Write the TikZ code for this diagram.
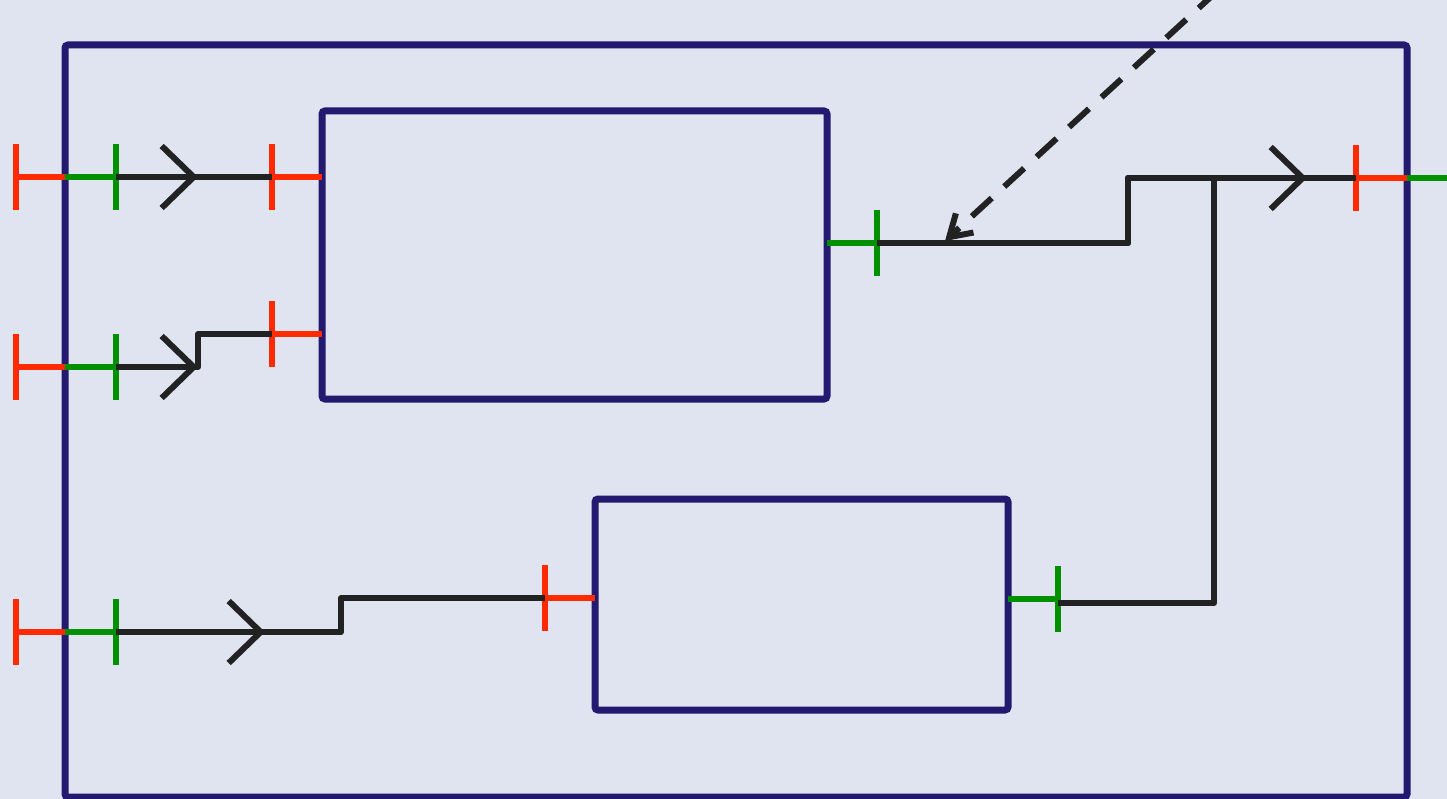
\documentclass[tikz,border=0pt]{standalone}
\usepackage{tikz}
\usetikzlibrary{arrows.meta, positioning, calc}
\definecolor{pnavy}{HTML}{231A6F}
\definecolor{pred}{HTML}{FF2A00}
\definecolor{pgreen}{HTML}{009000}
\definecolor{pwire}{HTML}{222222}
\definecolor{pback}{HTML}{DFE4F0}
\tikzset{
  block/.style={
    draw=pnavy, line width=7pt, rounded corners=3pt,
    inner sep=0pt, outer sep=0pt
  },
  inbar/.style={fill=pred, inner sep=0pt, minimum width=6pt, minimum height=66pt},
  outbar/.style={inbar, fill=pgreen},
  instub/.style={draw=pred, line width=6pt},
  outstub/.style={draw=pgreen, line width=6pt},
  wire/.style={draw=pwire, line width=6pt, line join=round},
  flow/.style={wire, -{Straight Barb[length=32pt, width=62pt, sharp]}},
  tap/.style={
    draw=pwire, line width=6pt, dash pattern=on 27pt off 17pt,
    -{Straight Barb[length=21pt, width=26pt, sharp]}
  }
}

\begin{document}
\begin{tikzpicture}[x=1pt, y=-1pt]
  \useasboundingbox (0,0) rectangle (1447,799);
  \fill[pback] (0,0) rectangle (1447,799);

  % frame and blocks
  \node[block, minimum width=1342pt, minimum height=752pt] (frame) at (736,421) {};
  \node[block, minimum width=505pt, minimum height=288pt] (boxA) at (574.5,255) {};
  \node[block, minimum width=413pt, minimum height=211pt] (boxB) at (801.5,604.5) {};

  % ports on the frame
  \node[inbar] (xin1) at (16,177) {};
  \node[outbar] (gin1) at (116,177) {};
  \node[inbar] (xin2) at (16,367) {};
  \node[outbar] (gin2) at (116,367) {};
  \node[inbar] (xin3) at (16,632) {};
  \node[outbar] (gin3) at (116,632) {};
  \node[inbar] (xout) at (1356,178) {};
  \coordinate (xext) at (1460,178);
  \draw[instub] (xin1.center) -- (xin1 -| frame.west);
  \draw[outstub] (xin1 -| frame.west) -- (gin1.center);
  \draw[instub] (xin2.center) -- (xin2 -| frame.west);
  \draw[outstub] (xin2 -| frame.west) -- (gin2.center);
  \draw[instub] (xin3.center) -- (xin3 -| frame.west);
  \draw[outstub] (xin3 -| frame.west) -- (gin3.center);
  \draw[instub] (xout.center) -- (xout -| frame.east);
  \draw[outstub] (xout -| frame.east) -- (xext);

  % ports on the blocks
  \node[inbar] (inA1) at (272,177) {};
  \node[inbar] (inA2) at (272,334) {};
  \node[outbar] (outA) at (877,243) {};
  \node[inbar] (inB) at (545,598) {};
  \node[outbar] (outB) at (1058,599) {};
  \draw[instub] (inA1.center) -- (inA1 -| boxA.west);
  \draw[instub] (inA2.center) -- (inA2 -| boxA.west);
  \draw[outstub] (outA -| boxA.east) -- (outA.center);
  \draw[instub] (inB.center) -- (inB -| boxB.west);
  \draw[outstub] (outB -| boxB.east) -- (outB.center);

  % wires
  \coordinate (chA1) at (198,177);
  \coordinate (chA2) at (198,367);
  \coordinate (chB) at (265,632);
  \coordinate (chX) at (1307,178);
  \coordinate (jn) at (1214,178);
  \draw[wire] (gin1.center) -- (inA1.center);
  \draw[flow] (gin1.center) -- (chA1);
  \draw[wire] (gin2.center) -- (chA2) |- (inA2.center);
  \draw[flow] (gin2.center) -- (chA2);
  \draw[wire] (gin3.center) -- ++(225,0) |- (inB.center);
  \draw[flow] (gin3.center) -- (chB);
  \draw[wire] (outA.center) -- ++(251,0) |- (xout.center);
  \draw[flow] (outA.center) -- ++(251,0) |- (chX);
  \draw[wire] ([yshift=-4pt]outB.center) -| (jn);

  % dashed pointer
  \coordinate (note) at (1251,-40);
  \coordinate (tapA) at (945,241);
  \draw[tap] (note) -- (tapA);
\end{tikzpicture}
\end{document}
